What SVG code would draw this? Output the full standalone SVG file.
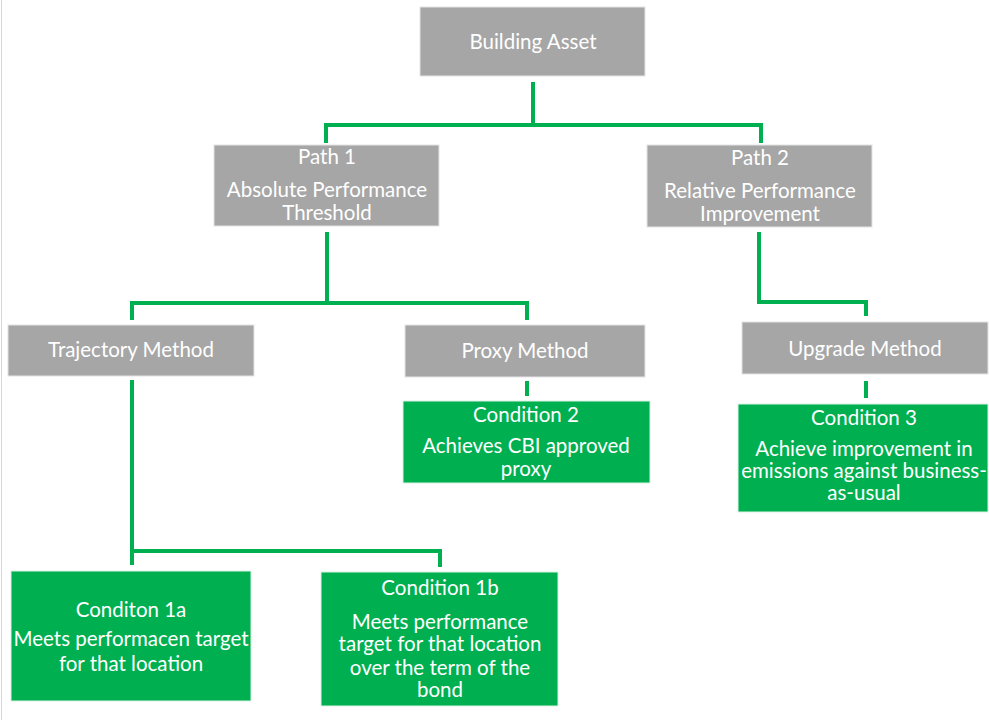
<svg xmlns="http://www.w3.org/2000/svg" width="989" height="720" viewBox="0 0 989 720">
  <style>
    .gray { fill: #A6A6A6; stroke: #E4E4E4; stroke-width: 1; }
    .green { fill: #00B050; stroke: #D9F2E3; stroke-width: 1; }
    .lbl { font-family: Lato, "Open Sans", "Liberation Sans", sans-serif; font-size: 20.5px; fill: #FFFFFF; text-anchor: middle; dominant-baseline: central; }
    .conn { fill: none; stroke: #00B050; stroke-width: 4; stroke-linejoin: miter; }
  </style>
  <rect x="0" y="0" width="989" height="720" fill="#FFFFFF"/>
  <line x1="1.5" y1="0" x2="1.5" y2="720" stroke="#F5F200" stroke-width="1"/>

  <g id="connectors">
    <path class="conn" d="M533 82 V125 M326 143 V125 H761 V143"/>
    <path class="conn" d="M327 232 V303 M132 320 V303 H527 V320"/>
    <path class="conn" d="M759 232 V302 H866 V316"/>
    <path class="conn" d="M527 381 V396"/>
    <path class="conn" d="M866 381 V398"/>
    <path class="conn" d="M132 380 V551 M132 565 V551 H440 V567"/>
  </g>

  <g id="building-asset">
    <rect class="gray" x="420" y="7" width="225" height="69"/>
    <text class="lbl" x="533" y="41">Building Asset</text>
  </g>

  <g id="path-1">
    <rect class="gray" x="214" y="145" width="225" height="81"/>
    <text class="lbl" x="327" y="156">Path 1</text>
    <text class="lbl" x="327" y="189">Absolute Performance</text>
    <text class="lbl" x="327" y="212">Threshold</text>
  </g>

  <g id="path-2">
    <rect class="gray" x="647" y="145" width="225" height="82"/>
    <text class="lbl" x="760" y="157">Path 2</text>
    <text class="lbl" x="760" y="190">Relative Performance</text>
    <text class="lbl" x="760" y="213">Improvement</text>
  </g>

  <g id="trajectory-method">
    <rect class="gray" x="8" y="325" width="246" height="51"/>
    <text class="lbl" x="131" y="349">Trajectory Method</text>
  </g>

  <g id="proxy-method">
    <rect class="gray" x="405" y="325" width="240" height="52"/>
    <text class="lbl" x="525" y="350">Proxy Method</text>
  </g>

  <g id="upgrade-method">
    <rect class="gray" x="742" y="322" width="246" height="52"/>
    <text class="lbl" x="865" y="348">Upgrade Method</text>
  </g>

  <g id="condition-2">
    <rect class="green" x="403" y="401" width="247" height="82"/>
    <text class="lbl" x="526" y="414">Condition 2</text>
    <text class="lbl" x="526" y="445">Achieves CBI approved</text>
    <text class="lbl" x="526" y="468">proxy</text>
  </g>

  <g id="condition-3">
    <rect class="green" x="738" y="404" width="250" height="108"/>
    <text class="lbl" x="864" y="417">Condition 3</text>
    <text class="lbl" x="864" y="448">Achieve improvement in</text>
    <text class="lbl" x="864" y="470">emissions against business-</text>
    <text class="lbl" x="864" y="492">as-usual</text>
  </g>

  <g id="condition-1a">
    <rect class="green" x="11" y="571" width="240" height="130"/>
    <text class="lbl" x="131" y="609">Conditon 1a</text>
    <text class="lbl" x="131" y="638">Meets performacen target</text>
    <text class="lbl" x="131" y="663">for that location</text>
  </g>

  <g id="condition-1b">
    <rect class="green" x="321" y="572" width="237" height="134"/>
    <text class="lbl" x="440" y="587">Condition 1b</text>
    <text class="lbl" x="440" y="621">Meets performance</text>
    <text class="lbl" x="440" y="643">target for that location</text>
    <text class="lbl" x="440" y="667">over the term of the</text>
    <text class="lbl" x="440" y="689">bond</text>
  </g>
</svg>
